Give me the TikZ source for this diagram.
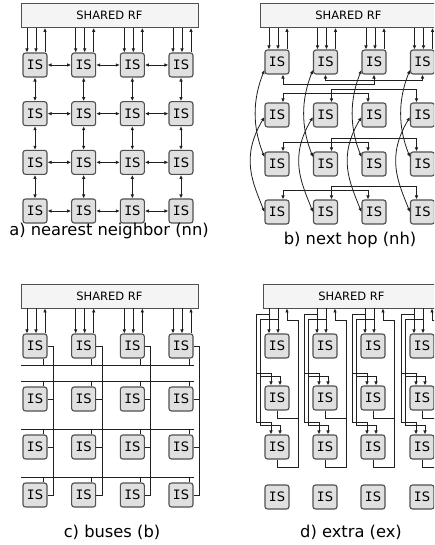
\documentclass[tikz,border=0pt]{standalone}
\usepackage{fontspec}
\setmainfont{DejaVu Sans}
\newfontfamily\monofont{DejaVu Sans Mono}
\usetikzlibrary{arrows.meta,calc}
\definecolor{isfill}{HTML}{E0E0E0}
\definecolor{isdraw}{HTML}{505050}
\definecolor{rffill}{HTML}{F4F4F4}
\definecolor{lncol}{HTML}{202020}
\newcommand\ISlbl{{\monofont I}S}
\tikzset{
  isbox/.style={rectangle, rounded corners=2.5pt, minimum size=24pt, inner sep=0pt, fill=isfill, draw=isdraw, line width=1.1pt, font=\fontsize{13}{13}\selectfont},
  rfbox/.style={rectangle, minimum width=177pt, minimum height=24pt, inner sep=0pt, fill=rffill, draw=isdraw, line width=0.8pt, font=\fontsize{11.5}{12}\selectfont},
  ln/.style={line width=0.8pt, draw=lncol},
  arr/.style={ln, -{Latex[length=4pt,width=3.6pt]}},
  darr/.style={ln, {Latex[length=4pt,width=3.6pt]}-{Latex[length=4pt,width=3.6pt]}},
  captxt/.style={font=\fontsize{16.3}{17}\selectfont}
}
\newcommand\rfarr[2]{%
  \path ($(#2.north)+(-8,0)$) coordinate (q1) ($(#2.north)+(1,0)$) coordinate (q2) ($(#2.north)+(10,0)$) coordinate (q3);
  \draw[arr] (q1 |- #1.south) -- (q1);
  \draw[arr] (q2 |- #1.south) -- (q2);
  \draw[arr] (q3) -- (q3 |- #1.south);
}
\begin{document}
\begin{tikzpicture}[x=1pt,y=-1pt]
\useasboundingbox (0,0) rectangle (434,545);
\clip (0,0) rectangle (434,545);
\fill[white] (0,0) rectangle (434,545);
% ---------------- panel a
\foreach \c/\x in {1/35,2/83.67,3/132.33,4/181}{
  \foreach \r/\y in {1/65,2/113.67,3/162.33,4/211}{
    \node[isbox] (a\r\c) at (\x,\y) {\ISlbl};
  }
}
\node[rfbox] (aRF) at (109.5,15.5) {SHARED RF};
\foreach \c in {1,...,4}{ \rfarr{aRF}{a1\c} }
\foreach \r in {1,...,4}{
  \foreach \c [evaluate=\c as \cn using int(\c+1)] in {1,2,3}{ \draw[darr] (a\r\c) -- (a\r\cn); }
}
\foreach \c in {1,...,4}{
  \foreach \r [evaluate=\r as \rn using int(\r+1)] in {1,2,3}{ \draw[darr] (a\r\c) -- (a\rn\c); }
}
\node[captxt] (acap) at (109,231) {a) nearest neighbor (nn)};
% ---------------- panel b
\foreach \c/\x in {1/277,2/325.5,3/374,4/422.5}{
  \foreach \r/\y in {1/62,2/115,3/164,4/212}{
    \node[isbox] (b\r\c) at (\x,\y) {\ISlbl};
  }
}
\node[rfbox] (bRF) at (348.5,15.5) {SHARED RF};
\foreach \c in {1,...,4}{ \rfarr{bRF}{b1\c} }
\draw[darr] (b12.south) -- ++(0,6) -| (b14.south);
\draw[darr] ($(b11.south)+(6,0)$) -- ++(0,10) -| (b13.south);
\foreach \r in {2,3,4}{
  \draw[darr] ($(b\r2.north)+(6,0)$) -- ++(0,-13) -| ($(b\r4.north)+(-6,0)$);
  \draw[darr] ($(b\r1.north)+(6,0)$) -- ++(0,-9) -| ($(b\r3.north)+(-6,0)$);
}
\foreach \c in {1,...,4}{
  \draw[darr] ($(b1\c.west)+(0,8)$) .. controls +(-12,30) and +(-12,-30) .. ($(b3\c.west)+(0,-7)$);
  \draw[darr] ($(b2\c.west)+(0,2)$) .. controls +(-24,40) and +(-12,-30) .. (b4\c.west);
}
\node[captxt] (bcap) at (350,240) {b) next hop (nh)};
% ---------------- panel c
\foreach \c/\x in {1/35,2/83.67,3/132.33,4/181}{
  \foreach \r/\y in {1/346,2/399,3/447,4/495}{
    \node[isbox] (c\r\c) at (\x,\y) {\ISlbl};
  }
}
\node[rfbox] (cRF) at (109.5,296) {SHARED RF};
\foreach \c in {1,...,4}{ \rfarr{cRF}{c1\c} }
\foreach \c in {1,...,4}{
  \draw[ln] (c1\c.east) -- ++(6,0) coordinate (v\c) -- (v\c |- c4\c.east) -- (c4\c.east);
  \draw[ln] (c2\c.east) -- (c2\c.east -| v\c);
  \draw[ln] (c3\c.east) -- (c3\c.east -| v\c);
}
\path ($(c11.south west)+(-1,7)$) coordinate (h1);
\draw[ln] (h1) -- (h1 -| c14.east);
\foreach \c in {1,...,4}{ \draw[ln] ($(c1\c.south)+(8,0)$) coordinate (s) -- (s |- h1); }
\foreach \r in {2,3,4}{
  \path ($(c\r1.north west)+(-1,-5)$) coordinate (h\r);
  \draw[ln] (h\r) -- (h\r -| c\r4.east);
  \foreach \c in {1,...,4}{ \draw[ln] ($(c\r\c.north)+(8,0)$) coordinate (s) -- (s |- h\r); }
}
\node[captxt] (ccap) at (112,532) {c) buses (b)};
% ---------------- panel d
\foreach \c/\x in {1/277,2/325,3/373,4/422}{
  \foreach \r/\y in {1/346,2/398,3/447,4/497}{
    \node[isbox] (d\r\c) at (\x,\y) {\ISlbl};
  }
}
\node[rfbox] (dRF) at (351.5,296) {SHARED RF};
\foreach \c in {1,...,4}{
  \path ($(d1\c.north)+(-8,0)$) coordinate (e1) ($(d1\c.north)+(1,0)$) coordinate (e2) ($(d1\c.north)+(10,-13)$) coordinate (e3);
  \draw[arr] (e1 |- dRF.south) -- (e1);
  \draw[arr] (e2 |- dRF.south) -- (e2);
  \draw[arr] (e3) -- (e3 |- dRF.south);
  \draw[ln] (e3) -- ++(11,0) coordinate (rb\c);
  \draw[ln] (d2\c.south) -- ++(0,8) -| (rb\c);
  \draw[ln] (d3\c.south) -- ++(0,8) -| (rb\c);
  % left feeders
  \path ($(e1)+(0,-19)$) coordinate (f1) ($(e2)+(0,-14)$) coordinate (f2)
        ($(f1)+(-13,0)$) coordinate (g1) ($(f2)+(-18,0)$) coordinate (g2);
  \draw[ln] (f1) -- (g1);
  \draw[ln] (f2) -- (g2);
  \draw[arr] (g1) |- ($(d2\c.north)+(-6,-12)$) -- ($(d2\c.north)+(-6,0)$);
  \draw[arr] (g2) |- ($(d2\c.north)+(3,-9)$) -- ($(d2\c.north)+(3,0)$);
  \draw[arr] (g1) |- ($(d3\c.north)+(-6,-12)$) -- ($(d3\c.north)+(-6,0)$);
  \draw[arr] (g2) |- ($(d3\c.north)+(3,-9)$) -- ($(d3\c.north)+(3,0)$);
}
\node[captxt] (dcap) at (351,532) {d) extra (ex)};
\end{tikzpicture}
\end{document}
